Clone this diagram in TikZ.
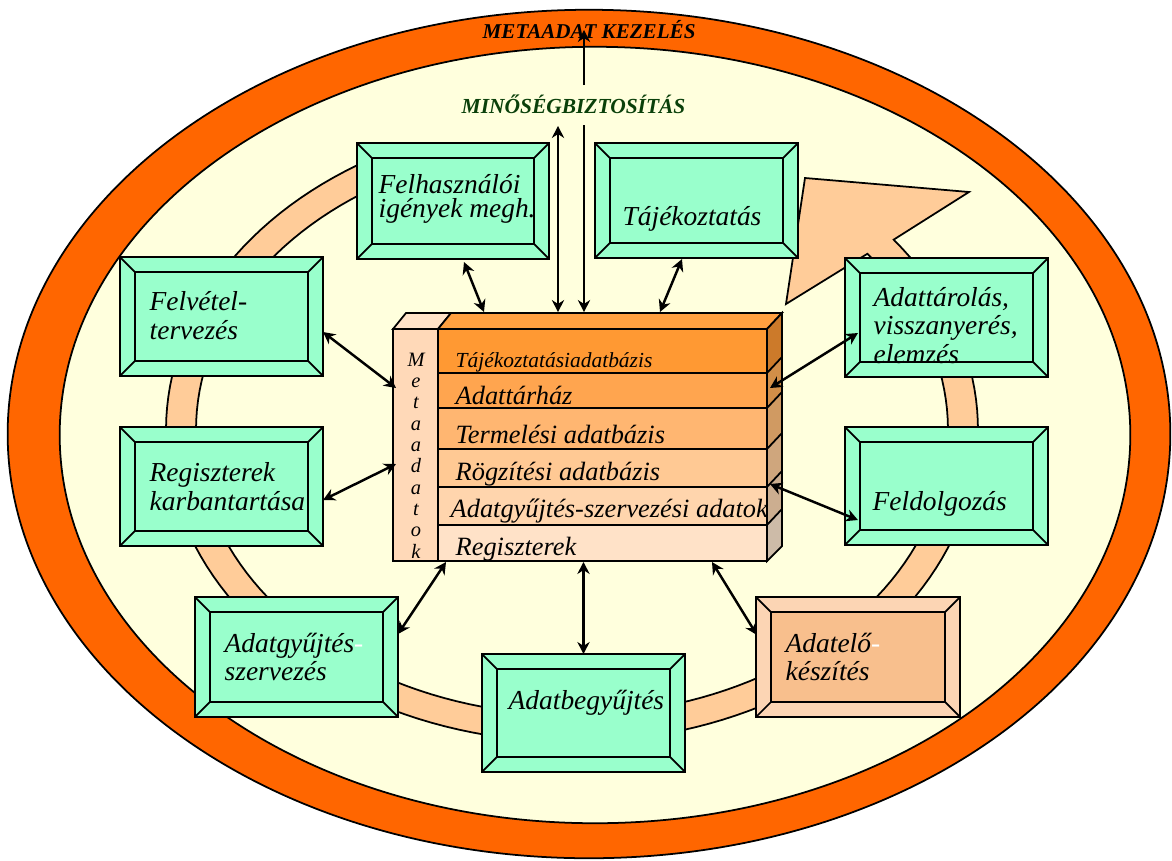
\documentclass[tikz,border=0pt]{standalone}
\usepackage{fontspec}
\setmainfont{Liberation Serif}
\usetikzlibrary{arrows.meta}

\definecolor{rimorange}{HTML}{FF6600}
\definecolor{fieldyellow}{HTML}{FFFFDD}
\definecolor{ringpeach}{HTML}{FFCC99}
\definecolor{boxgreen}{HTML}{99FFCC}
\definecolor{prepouter}{HTML}{FCD5B4}
\definecolor{prepinner}{HTML}{F8BF8D}
\definecolor{qgreen}{HTML}{0A400A}
\definecolor{metafront}{HTML}{FFD9B8}
\definecolor{metatop}{HTML}{FFE3C8}
\definecolor{stacktop}{HTML}{FFA040}
\definecolor{layA}{HTML}{FF9933}
\definecolor{layB}{HTML}{FFA54F}
\definecolor{layC}{HTML}{FFB671}
\definecolor{layD}{HTML}{FFC994}
\definecolor{layE}{HTML}{FFD5AD}
\definecolor{layF}{HTML}{FFE2C8}
\definecolor{sideA}{HTML}{CC7A2A}
\definecolor{sideB}{HTML}{D28E48}
\definecolor{sideC}{HTML}{D09A62}
\definecolor{sideD}{HTML}{CFA67D}
\definecolor{sideE}{HTML}{CCAE90}
\definecolor{sideF}{HTML}{CDBBA8}

% beveled box: name, centre, width, height, rim fill, face fill
\newcommand\bevelbox[6]{%
  \node[bbox, fill=#5, minimum width=#3cm, minimum height=#4cm] (#1) at #2 {};
  \draw[bline, fill=#6] ([shift={(15,15)}]#1.north west) rectangle ([shift={(-15,-15)}]#1.south east);
  \draw[bline] (#1.north west) -- ++(15,15)
               (#1.north east) -- ++(-15,15)
               (#1.south west) -- ++(15,-15)
               (#1.south east) -- ++(-15,-15);
}

\begin{document}
\begin{tikzpicture}[x=0.01cm, y=-0.01cm,
  bline/.style={draw=black, line width=0.5pt},
  bbox/.style={bline, inner sep=0pt, outer sep=0pt},
  boxtext/.style={font=\itshape\fontsize{7.8}{8}\selectfont, anchor=base west, align=left, inner sep=0pt},
  layertext/.style={font=\itshape\fontsize{7.5}{8}\selectfont, anchor=base west, inner sep=0pt},
  arr/.style={{Stealth[length=3.4pt,width=3.5pt]}-{Stealth[length=3.4pt,width=3.5pt]}, line width=0.7pt},
  arrone/.style={-{Stealth[length=3.4pt,width=3.5pt]}, line width=0.7pt}]

\useasboundingbox (0,0) rectangle (1172,860);
\fill[white] (0,0) rectangle (1172,860);

% outer rim and inner field
\draw[fill=rimorange, line width=0.5pt] (589,434) ellipse [x radius=5.81cm, y radius=4.24cm];
\draw[fill=fieldyellow, line width=0.5pt] (595,435) ellipse [x radius=5.35cm, y radius=3.88cm];

% circular process arrow
\draw[bline, fill=ringpeach]
  plot[domain=240:-37.6, samples=140] ({572+406*cos(\x)}, {430+312*sin(\x)})
  -- (969,192) -- (805,178) -- (786,304) -- (867,254)
  -- plot[domain=-38.2:240, samples=140] ({572+376*cos(\x)}, {430+285*sin(\x)})
  -- cycle;

% database stack
\node[inner sep=0pt, minimum width=3.74cm, minimum height=2.32cm] (stack) at (580,445) {};
\draw[bline, fill=metatop] (393,329) -- (406,313) -- (451,313) -- (438,329) -- cycle;
\draw[bline, fill=stacktop] (438,329) -- (451,313) -- (782,313) -- (767,329) -- cycle;
\draw[bline, fill=metafront] (393,329) rectangle (438,561);
\foreach \ya/\yb/\cf/\cs in {329/373/layA/sideA, 373/408/layB/sideB, 408/449/layC/sideC,
                            449/487/layD/sideD, 487/525/layE/sideE, 525/561/layF/sideF}{
  \draw[bline, fill=\cf] (438,\ya) rectangle (767,\yb);
  \draw[bline, fill=\cs] (767,\ya) -- (782,\ya-16) -- (782,\yb-15) -- (767,\yb) -- cycle;
}
% multi-line nodes are anchored at the baseline of their last line
\node[font=\itshape\fontsize{5.8}{6.06}\selectfont, align=center, anchor=base, inner sep=0pt] (meta) at (416,558)
  {M\\e\\t\\a\\a\\d\\a\\t\\o\\k};
\node[font=\itshape\fontsize{6.1}{7}\selectfont, anchor=base west, inner sep=0pt] (l1) at (455,367) {Tájékoztatásiadatbázis};
\node[layertext] (l2) at (455,404) {Adattárház};
\node[layertext] (l3) at (455,443) {Termelési adatbázis};
\node[layertext] (l4) at (455,480) {Rögzítési adatbázis};
\node[layertext] (l5) at (450,517) {Adatgyűjtés-szervezési adatok};
\node[layertext] (l6) at (455,555) {Regiszterek};

% process steps
\bevelbox{felh}{(453,201)}{1.92}{1.16}{boxgreen}{boxgreen}
\bevelbox{tajek}{(696.5,200.5)}{2.03}{1.15}{boxgreen}{boxgreen}
\bevelbox{felv}{(221.5,316.5)}{2.03}{1.19}{boxgreen}{boxgreen}
\bevelbox{regk}{(221.5,486.5)}{2.03}{1.19}{boxgreen}{boxgreen}
\bevelbox{agysz}{(296.5,657)}{2.03}{1.20}{boxgreen}{boxgreen}
\bevelbox{adatb}{(583.5,713)}{2.03}{1.18}{boxgreen}{boxgreen}
\bevelbox{adatelo}{(858,657)}{2.04}{1.20}{prepouter}{prepinner}
\bevelbox{feldolg}{(946.5,486)}{2.03}{1.18}{boxgreen}{boxgreen}
\bevelbox{adattar}{(946.5,317.5)}{2.03}{1.19}{boxgreen}{boxgreen}

\node[boxtext, font=\itshape\fontsize{7.8}{6.6}\selectfont] (felh-t) at (378,217) {Felhasználói\\igények megh.};
\node[boxtext] (tajek-t) at (622,225) {Tájékoztatás};
\node[boxtext] (felv-t) at (149,339) {Felvétel-\\tervezés};
\node[boxtext] (regk-t) at (149,510) {Regiszterek\\karbantartása};
\node[boxtext, font=\itshape\fontsize{7.8}{7.7}\selectfont] (agysz-t) at (224,680) {Adatgyűjtés\textcolor{white}{-}\\szervezés};
\node[boxtext] (adatb-t) at (508,709) {Adatbegyűjtés};
\node[boxtext, font=\itshape\fontsize{7.8}{7.9}\selectfont] (adatelo-t) at (785,680) {Adatelő\textcolor{white}{-}\\készítés};
\node[boxtext] (feldolg-t) at (872,510) {Feldolgozás};
\node[boxtext] (adattar-t) at (873,363) {Adattárolás,\\visszanyerés,\\elemzés};

% headings
\node[font=\bfseries\itshape\fontsize{6}{7}\selectfont, anchor=base west, inner sep=0pt] (kezeles) at (482,38) {METAADAT KEZELÉS};
\node[font=\bfseries\itshape\fontsize{6.1}{7}\selectfont, text=qgreen, anchor=base west, inner sep=0pt] (minoseg) at (461,113) {MINŐSÉGBIZTOSÍTÁS};

% attachment points on the stack and headings
\coordinate (s1) at (484,312);
\coordinate (s5) at (660,312);
\coordinate (s6) at (396,388);
\coordinate (s7) at (396,464);
\coordinate (s8) at (446,562);
\coordinate (s9) at (583.5,562);
\coordinate (s10) at (712,562);
\coordinate (s11) at (770,484);
\coordinate (s12) at (770,388);
\coordinate (q1) at (558,312);
\coordinate (q2) at (584,312);
\coordinate (m1) at (558,126);
\coordinate (m2) at (584,125);
\coordinate (m3) at (584,85);
\coordinate (k1) at (584,30);

% connectors
\draw[arr] ([xshift=0.11cm, yshift=-0.03cm]felh.south) -- (s1);
\draw[arr] ([xshift=-0.145cm, yshift=-0.01cm]tajek.south) -- (s5);
\draw[arr] ([yshift=-0.155cm]felv.east) -- (s6);
\draw[arr] ([yshift=-0.135cm]regk.east) -- (s7);
\draw[arr] ([yshift=0.23cm]agysz.east) -- (s8);
\draw[arr] (adatb.north) -- (s9);
\draw[arr] ([xshift=0.01cm, yshift=0.22cm]adatelo.west) -- (s10);
\draw[arr] ([xshift=0.13cm, yshift=-0.34cm]feldolg.west) -- (s11);
\draw[arr] ([xshift=0.13cm, yshift=-0.155cm]adattar.west) -- (s12);
\draw[arr] (q1) -- (m1);
\draw[arrone] (m2) -- (q2);
\draw[arrone] (m3) -- (k1);

\end{tikzpicture}
\end{document}
